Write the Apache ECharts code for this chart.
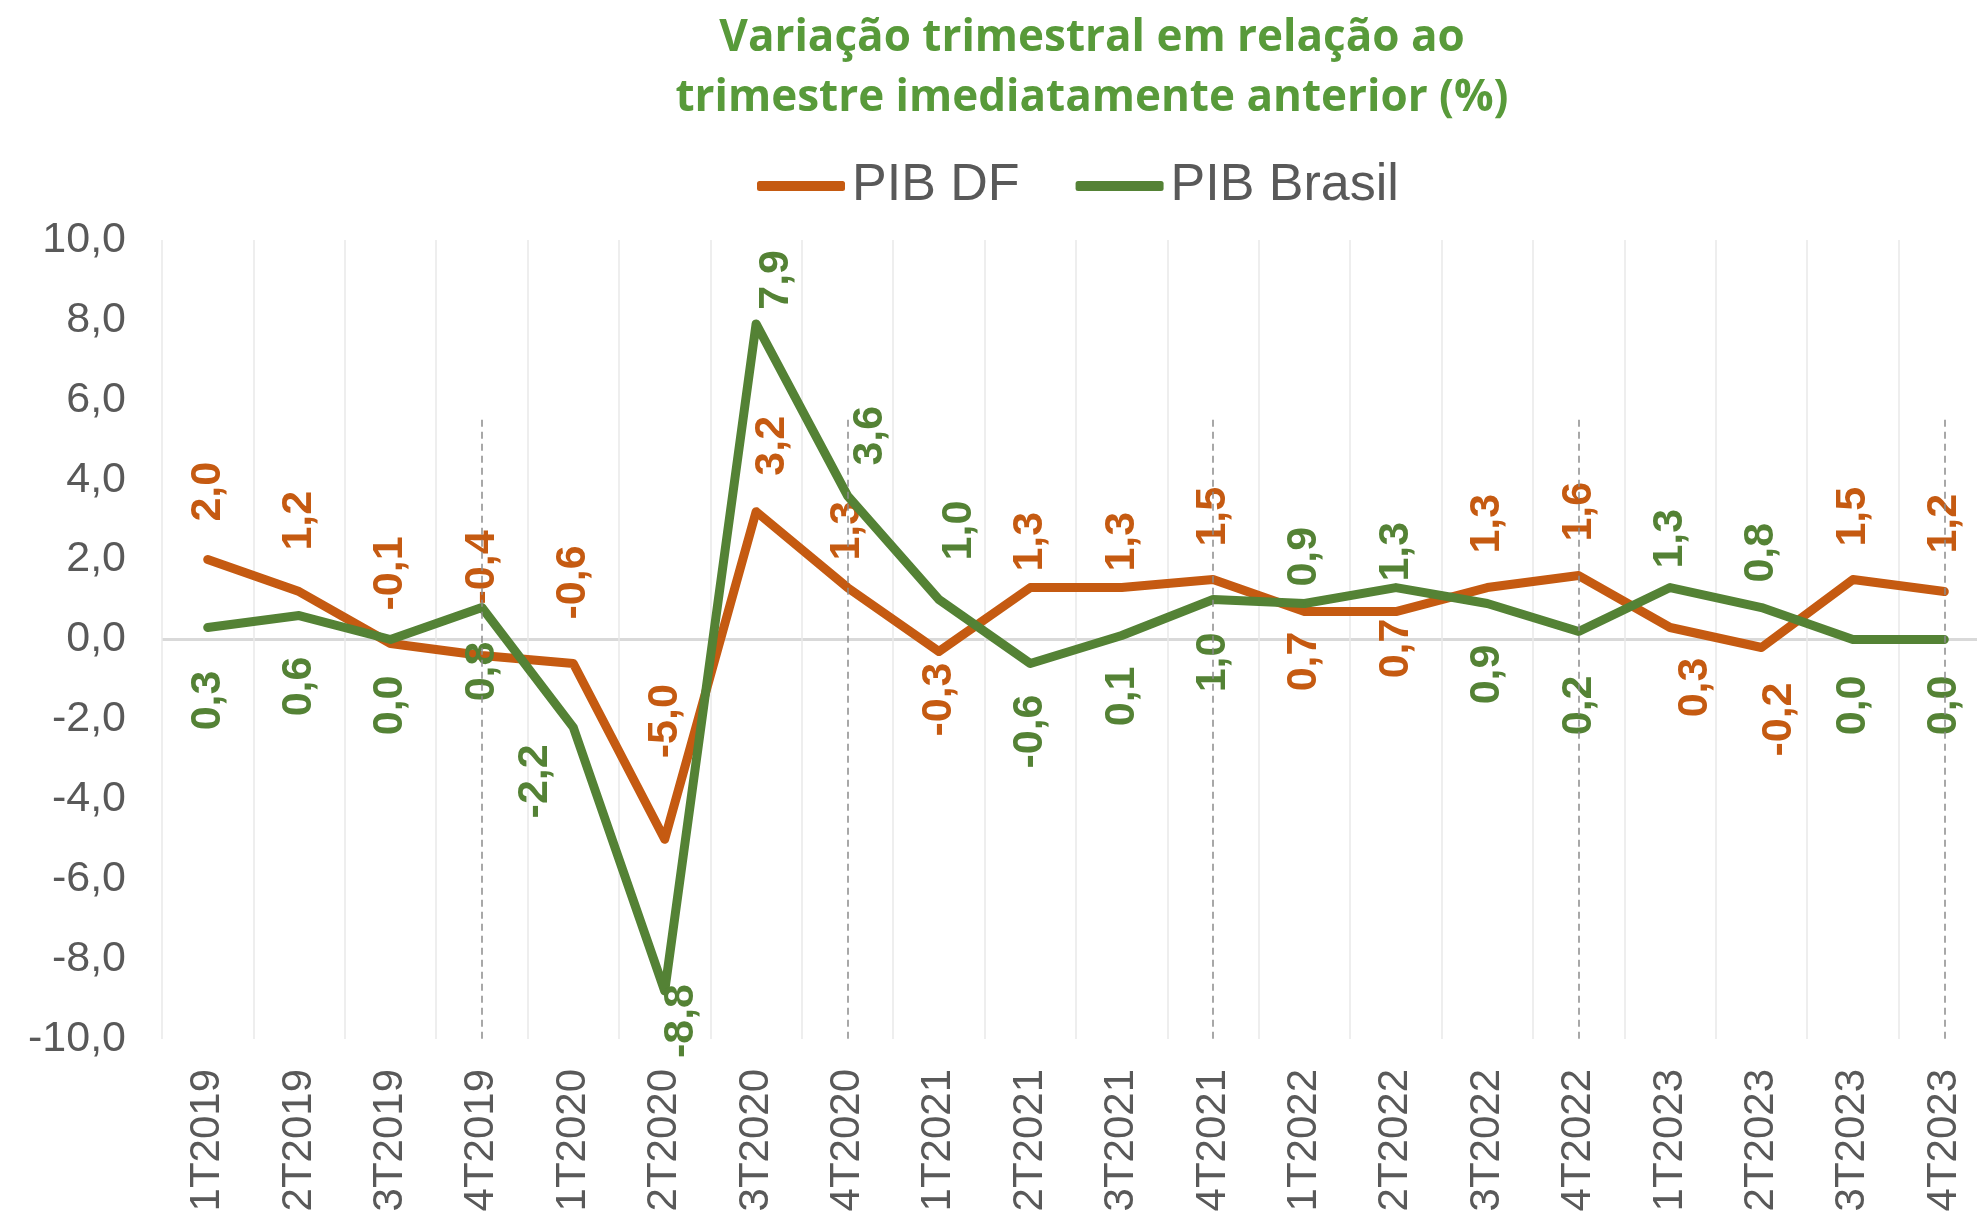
<!DOCTYPE html>
<html lang="pt">
<head>
    <meta charset="UTF-8">
    <title>PIB DF x PIB Brasil</title>
    <script src="https://cdn.jsdelivr.net/npm/echarts@6/dist/echarts.min.js"></script>
    <style>
      html, body { margin: 0; padding: 0; background: #fff; overflow: hidden; }
    </style>
</head>
<body>
    <!-- the chart is a bit wider than the window: the last band is cut off like in the original -->
    <div id="main" style="width: 1990px; height: 1221px"></div>
    <script type="text/javascript">

      // data
      const categories = [
        "1T2019", "2T2019", "3T2019", "4T2019",
        "1T2020", "2T2020", "3T2020", "4T2020",
        "1T2021", "2T2021", "3T2021", "4T2021",
        "1T2022", "2T2022", "3T2022", "4T2022",
        "1T2023", "2T2023", "3T2023", "4T2023"
      ];
      const pibDF = [2.0, 1.2, -0.1, -0.4, -0.6, -5.0, 3.2, 1.3, -0.3, 1.3,
                     1.3, 1.5, 0.7, 0.7, 1.3, 1.6, 0.3, -0.2, 1.5, 1.2];
      const pibBrasil = [0.3, 0.6, 0.0, 0.8, -2.2, -8.8, 7.9, 3.6, 1.0, -0.6,
                         0.1, 1.0, 0.9, 1.3, 0.9, 0.2, 1.3, 0.8, 0.0, 0.0];
      const yTicks = [-10, -8, -6, -4, -2, 0, 2, 4, 6, 8, 10];
      const yearEnds = ["4T2019", "4T2020", "4T2021", "4T2022", "4T2023"];

      const ORANGE = "#c55a11";
      const GREEN = "#548235";

      // label placement per point: [position, distance, screen dx, screen dy]
      const dfPlace = [
        ["top", 37], ["top", 40], ["top", 32], ["top", 50], ["top", 43],
        ["top", 80], ["top", 35, 16, 0], ["top", 26], ["bottom", 10], ["top", 15],
        ["top", 15], ["top", 32], ["bottom", 19], ["bottom", 6], ["top", 33],
        ["top", 33], ["bottom", 29, 25, 0], ["bottom", 34, 18, 0], ["top", 32], ["top", 37]
      ];
      const brPlace = [
        ["bottom", 42], ["bottom", 40], ["bottom", 35], ["bottom", 33], ["inside", 0, -38, 54],
        ["inside", 0, 16, 30], ["inside", 0, 20, -44], ["inside", 0, 23, -60], ["inside", 0, 20, -69], ["bottom", 30],
        ["bottom", 30], ["bottom", 32], ["top", 16], ["top", 5], ["bottom", 40],
        ["bottom", 43], ["top", 18], ["top", 24], ["bottom", 35], ["bottom", 35]
      ];

      const fmt = (v) => v.toFixed(1).replace(".", ",");

      function buildData(values, place) {
        return values.map((v, i) => {
          const p = place[i];
          const dx = p[2] || 0, dy = p[3] || 0;
          const align = p[0] === "top" ? "left" : p[0] === "bottom" ? "right" : "center";
          return {
            value: v,
            label: {
              position: p[0],
              distance: p[1],
              // the offset turns with the label (rotate 90), so undo that here
              offset: [-dy, dx],
              align: align,
              verticalAlign: "middle"
            }
          };
        });
      }

      const splitColors = yTicks.map((t) => (t === 0 ? "#d9d9d9" : "rgba(0,0,0,0)"));

      let myChart = echarts.init(document.getElementById("main"));

      let options = {
        animation: false,
        backgroundColor: "#ffffff",
        title: {
          text: "Variação trimestral em relação ao\ntrimestre imediatamente anterior (%)",
          left: 1087,
          top: 3,
          textAlign: "center",
          textStyle: {
            fontFamily: "Open Sans",
            fontWeight: "bold",
            fontSize: 44,
            lineHeight: 60,
            color: "#589a3a"
          }
        },
        legend: {
          data: ["PIB DF", "PIB Brasil"],
          left: 752,
          top: 155,
          icon: "roundRect",
          itemWidth: 88,
          itemHeight: 10,
          itemGap: 56,
          textStyle: {
            fontFamily: "Liberation Sans",
            fontSize: 52,
            color: "#595959",
            padding: [0, 0, 0, 2]
          }
        },
        grid: {
          left: 162,
          right: 0,
          top: 240,
          bottom: 182,
          containLabel: false
        },
        xAxis: {
          type: "category",
          data: categories,
          boundaryGap: true,
          axisLine: { show: false },
          axisTick: { show: false },
          axisLabel: {
            interval: 0,
            rotate: 90,
            margin: 30,
            fontFamily: "Liberation Sans",
            fontSize: 42,
            color: "#595959"
          },
          splitLine: {
            show: true,
            interval: 0,
            lineStyle: { color: "#e8e8e8", width: 1.5 }
          }
        },
        yAxis: {
          type: "value",
          min: -10,
          max: 10,
          interval: 2,
          axisLine: { show: false },
          axisTick: { show: false },
          axisLabel: {
            margin: 36,
            fontFamily: "Liberation Sans",
            fontSize: 43,
            color: "#595959",
            formatter: fmt
          },
          splitLine: {
            show: true,
            lineStyle: { color: splitColors, width: 3 }
          }
        },
        series: [
          {
            name: "PIB DF",
            type: "line",
            data: buildData(pibDF, dfPlace),
            symbol: "circle",
            symbolSize: 2,
            itemStyle: { color: ORANGE },
            lineStyle: { color: ORANGE, width: 9, cap: "round", join: "round" },
            label: {
              show: true,
              rotate: 90,
              formatter: (p) => fmt(p.value),
              fontFamily: "Liberation Sans",
              fontWeight: "bold",
              fontSize: 43,
              color: ORANGE
            },
            z: 3,
            markLine: {
              silent: true,
              symbol: ["none", "none"],
              label: { show: false },
              lineStyle: { type: [7, 5], color: "#8c8c8c", width: 1.5 },
              data: yearEnds.map((c) => [{ coord: [c, 5.5] }, { coord: [c, -10] }])
            }
          },
          {
            name: "PIB Brasil",
            type: "line",
            data: buildData(pibBrasil, brPlace),
            symbol: "circle",
            symbolSize: 2,
            itemStyle: { color: GREEN },
            lineStyle: { color: GREEN, width: 9, cap: "round", join: "round" },
            label: {
              show: true,
              rotate: 90,
              formatter: (p) => fmt(p.value),
              fontFamily: "Liberation Sans",
              fontWeight: "bold",
              fontSize: 43,
              color: GREEN
            },
            z: 4
          }
        ]
      };

      myChart.setOption(options);

    </script>
</body>
</html>
